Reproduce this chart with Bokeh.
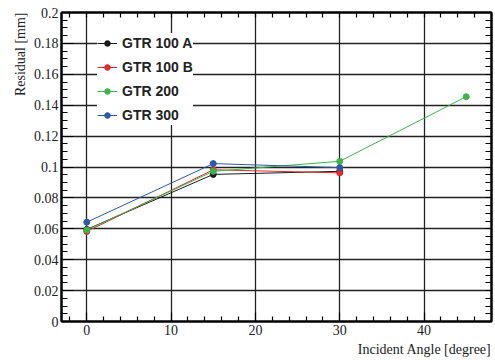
from bokeh.plotting import figure
from bokeh.models import Range1d, FixedTicker, LinearAxis, Title, Legend, LegendItem
from bokeh.embed import file_html
from bokeh.resources import INLINE

# ---- data ----
angles_a = [0, 15, 30]
gtr100a = [0.0596, 0.0952, 0.0972]
gtr100a_err = [0.0008, 0.0008, 0.0008]

angles_b = [0, 15, 30]
gtr100b = [0.0583, 0.0982, 0.0962]
gtr100b_err = [0.0008, 0.0008, 0.0008]

angles_200 = [0, 15, 30, 45]
gtr200 = [0.0592, 0.0972, 0.1037, 0.1455]
gtr200_err = [0.0008, 0.0008, 0.0008, 0.0015]

angles_300 = [0, 15, 30]
gtr300 = [0.0643, 0.1022, 0.0996]
gtr300_err = [0.0008, 0.0008, 0.0008]

series_names = ["GTR 100 A", "GTR 100 B", "GTR 200", "GTR 300"]
series_colors = ["#1a1a1a", "#e8262b", "#3bb54a", "#2c5aa8"]

x_ticks = [0, 10, 20, 30, 40]
x_tick_labels = ["0", "10", "20", "30", "40"]
x_minor = [-2, 2, 4, 6, 8, 12, 14, 16, 18, 22, 24, 26, 28, 32, 34, 36, 38, 42, 44, 46]
y_ticks = [0, 0.02, 0.04, 0.06, 0.08, 0.1, 0.12, 0.14, 0.16, 0.18, 0.2]
y_tick_labels = ["0", "0.02", "0.04", "0.06", "0.08", "0.1", "0.12", "0.14", "0.16", "0.18", "0.2"]
y_minor = [round(0.005 * i, 3) for i in range(41)]

SERIF = "Liberation Serif"
SANS = "Liberation Sans"

FRAME_H = 309
p = figure(frame_width=430, frame_height=FRAME_H, output_backend="svg", toolbar_location=None,
           x_range=Range1d(-3, 48), y_range=Range1d(0, 0.2),
           min_border_left=61, min_border_right=2, min_border_top=12, min_border_bottom=37,
           x_axis_label=None, y_axis_label=None)
p.background_fill_color = "white"
p.border_fill_color = "white"
p.outline_line_color = "black"
p.outline_line_width = 2


def style_axis(ax, ticker, major_len, minor_len):
    ax.ticker = ticker
    ax.axis_line_color = "black"
    ax.axis_line_width = 2
    ax.major_tick_in = major_len
    ax.major_tick_out = 0
    ax.minor_tick_in = minor_len
    ax.minor_tick_out = 0
    ax.major_tick_line_color = "black"
    ax.minor_tick_line_color = "black"
    ax.major_tick_line_width = 1.2
    ax.minor_tick_line_width = 1.2


def label_axis(ax, ticks, labels):
    ax.major_label_overrides = {t: l for t, l in zip(ticks, labels)}
    ax.major_label_text_font = SERIF
    ax.major_label_text_font_size = "14px"
    ax.major_label_text_color = "#222222"
    ax.major_label_standoff = 3


style_axis(p.xaxis[0], FixedTicker(ticks=x_ticks, minor_ticks=x_minor), 9, 5)
label_axis(p.xaxis[0], x_ticks, x_tick_labels)
style_axis(p.yaxis[0], FixedTicker(ticks=y_ticks, minor_ticks=y_minor), 12, 6)
label_axis(p.yaxis[0], y_ticks, y_tick_labels)

# mirrored tick marks on top / right (no labels: all ticks as minor ticks)
top_ax = LinearAxis()
style_axis(top_ax, FixedTicker(ticks=[], minor_ticks=x_minor + x_ticks), 9, 5)
p.add_layout(top_ax, "above")
right_ax = LinearAxis()
style_axis(right_ax, FixedTicker(ticks=[], minor_ticks=[t for t in y_minor] + y_ticks), 12, 6)
p.add_layout(right_ax, "right")

p.xgrid.ticker = FixedTicker(ticks=x_ticks)
p.ygrid.ticker = FixedTicker(ticks=y_ticks)
for g in (p.xgrid[0], p.ygrid[0]):
    g.grid_line_color = "#222222"
    g.grid_line_width = 1.3
    g.grid_line_alpha = 1.0

xs_list = [angles_a, angles_b, angles_200, angles_300]
ys_list = [gtr100a, gtr100b, gtr200, gtr300]
es_list = [gtr100a_err, gtr100b_err, gtr200_err, gtr300_err]

items = []
for name, col, xs, ys, es in zip(series_names, series_colors, xs_list, ys_list, es_list):
    ln = p.line(xs, ys, line_color=col, line_width=1.0)
    p.segment(x0=xs, x1=xs, y0=[y - e for y, e in zip(ys, es)], y1=[y + e for y, e in zip(ys, es)],
              line_color=col, line_width=1.5)
    sc = p.scatter(xs, ys, marker="circle", size=6, fill_color=col, line_color=col)
    items.append(LegendItem(label=name, renderers=[ln, sc]))

legend = Legend(items=items)
legend.background_fill_color = "white"
legend.background_fill_alpha = 1.0
legend.border_line_color = None
legend.label_text_font = SANS
legend.label_text_font_style = "bold"
legend.label_text_font_size = "14px"
legend.label_text_color = "#222222"
legend.glyph_width = 20
legend.glyph_height = 14
legend.label_height = 20
legend.label_standoff = 5
legend.spacing = 4
legend.padding = 5
legend.margin = 0
legend_h = 2 * 5 + 4 * 20 + 3 * 4
legend.location = (36, FRAME_H - 11 - legend_h)
p.add_layout(legend, "center")

xtitle = Title(text="Incident Angle [degree]", align="right", text_font=SERIF,
               text_font_style="normal", text_font_size="14px", text_color="#222222", standoff=5)
p.add_layout(xtitle, "below")
ytitle = Title(text="Residual [mm]", align="right", text_font=SERIF,
               text_font_style="normal", text_font_size="14px", text_color="#222222", standoff=6)
p.add_layout(ytitle, "left")

open("out.html", "w").write(file_html(p, INLINE))
